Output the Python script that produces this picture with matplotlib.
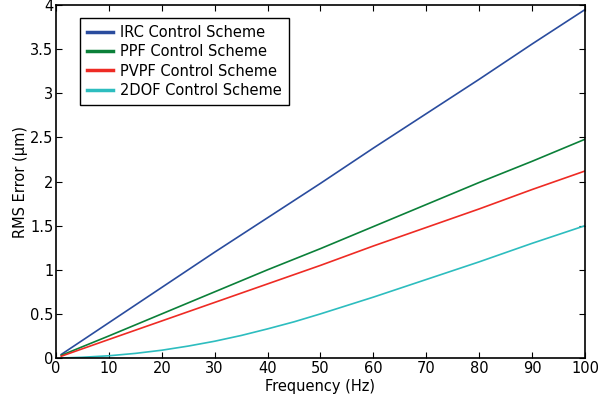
import matplotlib.pyplot as plt

freq = [1, 10, 20, 30, 40, 50, 60, 70, 80, 90, 100]
irc = [0.04, 0.40, 0.80, 1.20, 1.59, 1.98, 2.38, 2.77, 3.16, 3.56, 3.95]
ppf = [0.03, 0.25, 0.50, 0.75, 1.00, 1.24, 1.49, 1.74, 1.99, 2.23, 2.48]
pvpf = [0.02, 0.21, 0.42, 0.63, 0.84, 1.05, 1.27, 1.48, 1.69, 1.91, 2.12]

# 2DOF curve is bent, read at finer steps
freq_2dof = [1, 5, 10, 15, 20, 25, 30, 35, 40, 45, 50, 60, 70, 80, 90, 100]
dof2 = [0.00, 0.008, 0.025, 0.052, 0.088, 0.135, 0.19, 0.255, 0.33, 0.41,
        0.50, 0.69, 0.89, 1.09, 1.30, 1.50]

labels = ['IRC Control Scheme', 'PPF Control Scheme',
          'PVPF Control Scheme', '2DOF Control Scheme']
colors = ['#2a4c9e', '#0b8039', '#ee2b24', '#2dbdbf']

plt.rcParams['font.family'] = 'DejaVu Sans'
plt.rcParams['font.size'] = 10.5

fig = plt.figure(figsize=(6, 3.99), dpi=100)
ax = fig.add_axes([0.0933, 0.1028, 0.8817, 0.8842])

xs_all = [freq, freq, freq, freq_2dof]
for xs, ys, lab, c in zip(xs_all, [irc, ppf, pvpf, dof2], labels, colors):
    ax.plot(xs, ys, color=c, lw=1.2, label=lab)

ax.set_xlim(0, 100)
ax.set_ylim(0, 4)
ax.set_xticks(range(0, 101, 10))
ax.set_yticks([0, 0.5, 1, 1.5, 2, 2.5, 3, 3.5, 4])
ax.set_yticklabels(['0', '0.5', '1', '1.5', '2', '2.5', '3', '3.5', '4'])
ax.tick_params(direction='in', top=True, right=True, length=4, pad=2)
for s in ax.spines.values():
    s.set_linewidth(1.2)

ax.set_xlabel('Frequency (Hz)', labelpad=2)
ax.set_ylabel('RMS Error (\u03bcm)', labelpad=1)

leg = ax.legend(loc='upper left', bbox_to_anchor=(0.045, 0.965), fancybox=False,
                edgecolor='black', framealpha=1, handlelength=1.8,
                handletextpad=0.45, borderpad=0.5, labelspacing=0.3,
                borderaxespad=0)
leg.get_frame().set_linewidth(1.0)
for ln in leg.get_lines():
    ln.set_linewidth(2.5)

fig.savefig('out.png', dpi=100)
